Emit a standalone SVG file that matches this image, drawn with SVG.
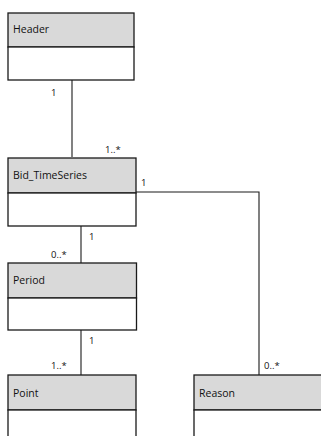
<svg xmlns="http://www.w3.org/2000/svg" width="321" height="436" viewBox="0 0 321 436">
<style>
.hd{fill:#d9d9d9;stroke:#1a1a1a;stroke-width:1.3}
.bd{fill:#ffffff;stroke:#1a1a1a;stroke-width:1.3}
.t{font-family:"Open Sans","DejaVu Sans",sans-serif;font-size:10.5px;fill:#111}
.m{font-family:"Open Sans","DejaVu Sans",sans-serif;font-size:9.5px;fill:#111}
.c{fill:none;stroke:#1a1a1a;stroke-width:1.1}
</style>
<rect width="321" height="436" fill="#ffffff"/>
<g id="connectors">
<path class="c" d="M72 80V157"/>
<path class="c" d="M136 192H259V375"/>
<path class="c" d="M81 226V263"/>
<path class="c" d="M81 330V375"/>
<text class="m" x="51" y="96">1</text>
<text class="m" x="105" y="153">1..*</text>
<text class="m" x="141" y="186">1</text>
<text class="m" x="89" y="240">1</text>
<text class="m" x="51" y="258">0..*</text>
<text class="m" x="89" y="344">1</text>
<text class="m" x="51" y="369">1..*</text>
<text class="m" x="264" y="369">0..*</text>
</g>
<g id="Header">
<rect class="hd" x="8" y="13" width="126" height="34"/>
<rect class="bd" x="8" y="47" width="126" height="33"/>
<text class="t" x="13" y="33">Header</text>
</g>
<g id="Bid_TimeSeries">
<rect class="hd" x="8" y="158" width="128" height="35"/>
<rect class="bd" x="8" y="193" width="128" height="33"/>
<text class="t" x="13" y="179">Bid_TimeSeries</text>
</g>
<g id="Period">
<rect class="hd" x="8" y="263" width="128.5" height="35"/>
<rect class="bd" x="8" y="298" width="128.5" height="32"/>
<text class="t" x="13" y="284">Period</text>
</g>
<g id="Point">
<rect class="hd" x="8" y="375" width="128" height="35"/>
<rect class="bd" x="8" y="410" width="128" height="40"/>
<text class="t" x="13" y="397">Point</text>
</g>
<g id="Reason">
<rect class="hd" x="194" y="375" width="140" height="35"/>
<rect class="bd" x="194" y="410" width="140" height="40"/>
<text class="t" x="199" y="397">Reason</text>
</g>
</svg>
